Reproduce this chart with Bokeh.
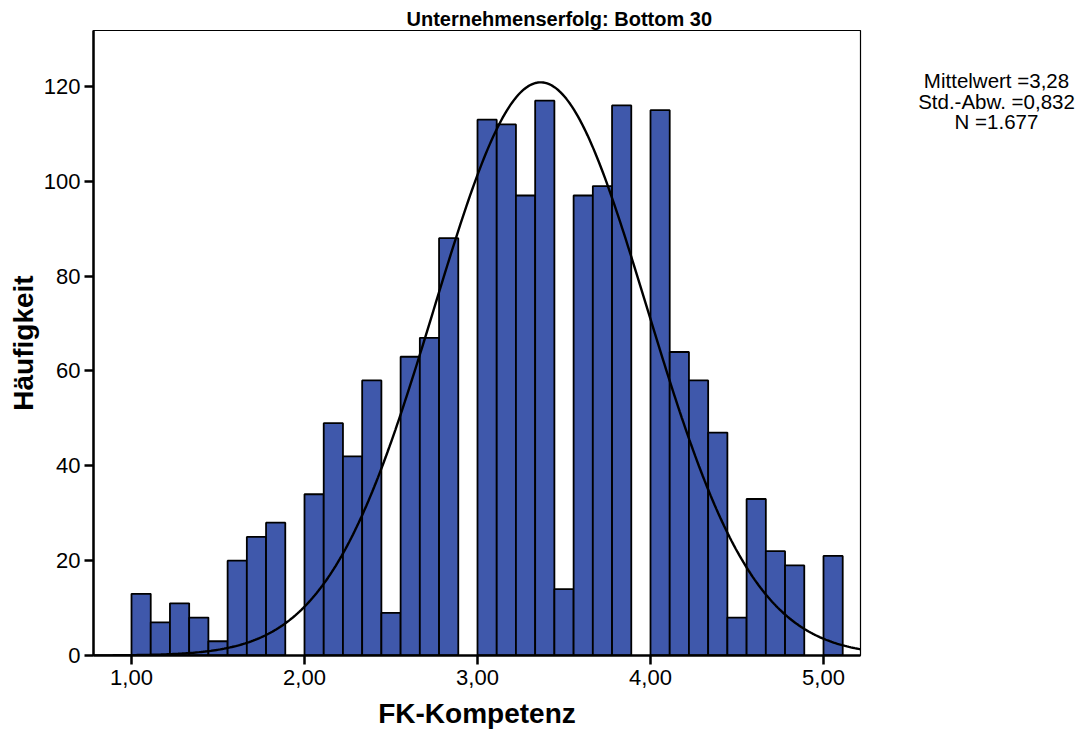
import numpy as np
from bokeh.plotting import figure
from bokeh.layouts import row
from bokeh.models import Range1d, FixedTicker, ColumnDataSource
from bokeh.core.properties import value
from bokeh.embed import file_html
from bokeh.resources import INLINE

# ---- data ----
bin_width = 1 / 9
bin_starts = [1 + i / 9 for i in range(37)]
counts = [13, 7, 11, 8, 3, 20, 25, 28, 0,
          34, 49, 42, 58, 9, 63, 67, 88, 0,
          113, 112, 97, 117, 14, 97, 99, 116, 0,
          115, 64, 58, 47, 8, 33, 22, 19, 0,
          21]
curve_mean = 3.365
curve_sd = 0.615
n_total = 1677
x_ticks = [1, 2, 3, 4, 5]
x_tick_labels = {1: "1,00", 2: "2,00", 3: "3,00", 4: "4,00", 5: "5,00"}
y_ticks = [0, 20, 40, 60, 80, 100, 120]
title_text = "Unternehmenserfolg: Bottom 30"
stats_lines = ["Mittelwert =3,28", "Std.-Abw. =0,832", "N =1.677"]

FONT = "Liberation Sans"
H = 738

p = figure(width=862, height=H, output_backend="svg", toolbar_location=None,
           x_range=Range1d(0.7803, 5.2139), y_range=Range1d(0, 131.8),
           min_border_left=93, min_border_top=30, min_border_right=2,
           min_border_bottom=H - 655)
p.xgrid.visible = False
p.ygrid.visible = False
p.outline_line_color = "black"
p.outline_line_width = 1.2
p.background_fill_color = "white"

p.title.text = title_text
p.title.align = "left"
p.title.offset = 313
p.title.text_font = FONT
p.title.text_font_style = "bold"
p.title.text_font_size = "20px"
p.title.standoff = 2
p.title.text_color = "black"

lefts = [b for b, c in zip(bin_starts, counts) if c > 0]
rights = [b + bin_width for b, c in zip(bin_starts, counts) if c > 0]
tops = [c for c in counts if c > 0]
src = ColumnDataSource(dict(left=lefts, right=rights, top=tops))
p.quad(left="left", right="right", bottom=0, top="top", source=src,
       fill_color="#3F58AB", line_color="black", line_width=1.8)

xs = np.linspace(0.7803, 5.2139, 400)
ys = n_total * bin_width / (curve_sd * np.sqrt(2 * np.pi)) * np.exp(-0.5 * ((xs - curve_mean) / curve_sd) ** 2)
p.line(xs, ys, line_color="black", line_width=2.4)

for ax in (p.xaxis[0], p.yaxis[0]):
    ax.axis_line_width = 2.5
    ax.axis_line_color = "black"
    ax.major_tick_line_width = 2.5
    ax.major_tick_line_color = "black"
    ax.major_tick_out = 9
    ax.major_tick_in = 0
    ax.minor_tick_line_color = None
    ax.major_label_text_font = FONT
    ax.major_label_text_font_size = "22px"
    ax.major_label_text_color = "black"
    ax.axis_label_text_font = FONT
    ax.axis_label_text_font_style = "bold"
    ax.axis_label_text_font_size = "28px"
    ax.axis_label_text_color = "black"

p.xaxis.ticker = FixedTicker(ticks=x_ticks)
p.xaxis.major_label_overrides = x_tick_labels
p.xaxis.major_label_standoff = 5
p.xaxis.axis_label = "FK-Kompetenz"
p.xaxis.axis_label_standoff = 10

p.yaxis.ticker = FixedTicker(ticks=y_ticks)
p.yaxis.major_label_standoff = 4
p.yaxis.axis_label = "Häufigkeit"
p.yaxis.axis_label_standoff = 2

# stats panel on the right (its frame is aligned with the main frame: y 30..655)
p2 = figure(width=214, height=H, output_backend="svg", toolbar_location=None,
            x_range=Range1d(0, 214), y_range=Range1d(655, 30),
            min_border_left=0, min_border_right=0, min_border_top=30,
            min_border_bottom=H - 655)
p2.axis.visible = False
p2.xgrid.visible = False
p2.ygrid.visible = False
p2.outline_line_color = None
stats_src = ColumnDataSource(dict(x=[134, 134, 134], y=[80, 101, 121], text=stats_lines))
p2.text(x="x", y="y", text="text", source=stats_src, text_align="center",
        text_baseline="middle", text_font=value(FONT), text_font_size="20.5px",
        text_color="black")

layout = row(p, p2, spacing=0)
open("out.html", "w").write(file_html(layout, INLINE))
